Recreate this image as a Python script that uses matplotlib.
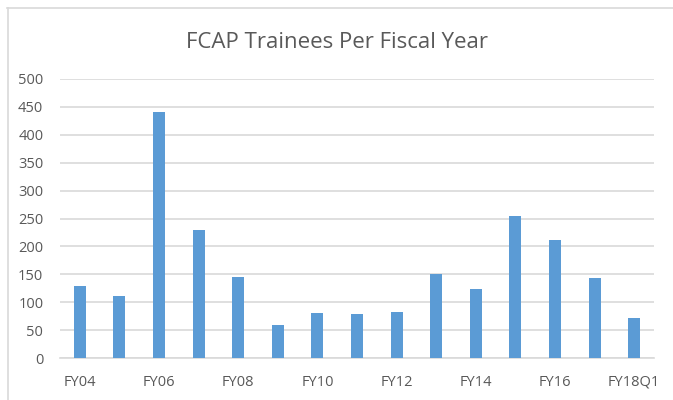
import numpy as np
import matplotlib.pyplot as plt
from matplotlib.lines import Line2D

# trainee counts per fiscal year
years = ['FY04', 'FY05', 'FY06', 'FY07', 'FY08', 'FY09', 'FY10', 'FY11',
         'FY12', 'FY13', 'FY14', 'FY15', 'FY16', 'FY17', 'FY18Q1']
trainees = [129, 112, 440, 230, 146, 60, 80, 79, 82, 151, 124, 255, 211, 143, 72]
yticks = [0, 50, 100, 150, 200, 250, 300, 350, 400, 450, 500]

plt.rcParams['font.family'] = ['Open Sans', 'DejaVu Sans']
txt = '#595959'

fig = plt.figure(figsize=(6.73, 4.0), dpi=100)
ax = fig.add_axes([60 / 673, 42 / 400, 594 / 673, 279 / 400])

x = np.arange(len(years))
ax.bar(x, trainees, width=0.3, color='#5b9bd5', zorder=3)

ax.set_xlim(-0.5, len(years) - 0.5)
ax.set_ylim(0, 500)
ax.set_yticks(yticks)
ax.set_yticklabels([str(v) for v in yticks], color=txt, fontsize=10.5)
ax.set_xticks(x[::2])
ax.set_xticklabels(years[::2], color=txt, fontsize=10.5)
ax.tick_params(length=0)
ax.tick_params(axis='x', pad=12)
ax.tick_params(axis='y', pad=12)
ax.grid(axis='y', color='#d9d9d9', linewidth=1.2, zorder=0)
for s in ['top', 'right', 'left']:
    ax.spines[s].set_visible(False)
ax.spines['bottom'].set_color('#d9d9d9')
ax.spines['bottom'].set_linewidth(1.2)

fig.text(0.5, 1 - 42 / 400, 'FCAP Trainees Per Fiscal Year', ha='center',
         va='center', fontsize=16, color=txt)

# chart area border (only top and left visible in the crop)
fig.add_artist(Line2D([7 / 673, 1.0], [1 - 7.5 / 400] * 2, color='#d9d9d9',
                      linewidth=1.2, transform=fig.transFigure))
fig.add_artist(Line2D([7.5 / 673] * 2, [0, 1 - 7.5 / 400], color='#d9d9d9',
                      linewidth=1.2, transform=fig.transFigure))

fig.savefig('out.png', dpi=100)
